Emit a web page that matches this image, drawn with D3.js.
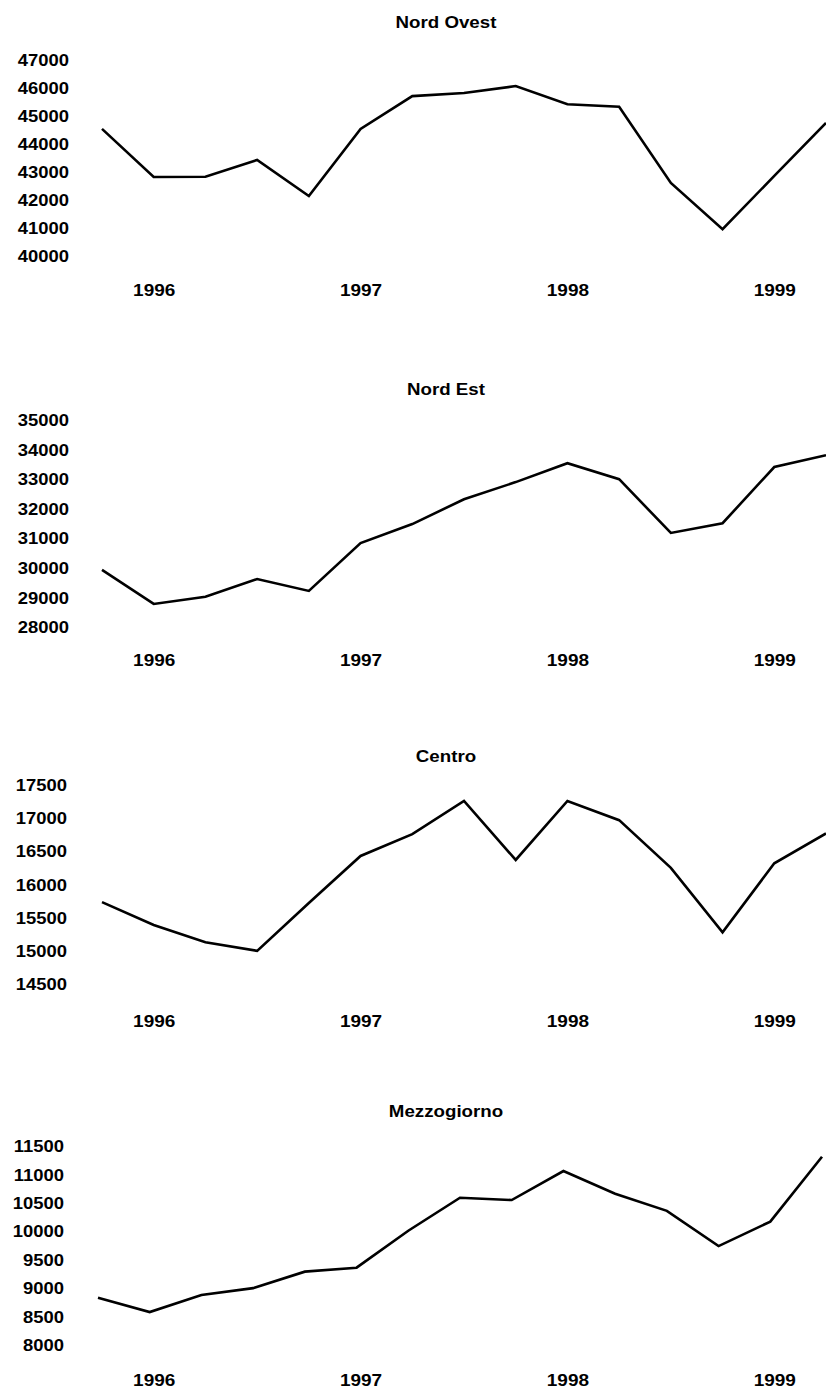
<!DOCTYPE html>
<html><head><meta charset="utf-8">
<script src="https://cdn.jsdelivr.net/npm/d3@7"></script>
<style>
html,body{margin:0;padding:0;background:#fff;}
text{font-family:"Liberation Sans",Arial,sans-serif;font-weight:bold;fill:#000;}
</style></head>
<body>
<div id="chart"></div>
<script>
// ---- data ----
const quarters = ["1995Q4","1996Q1","1996Q2","1996Q3","1996Q4","1997Q1","1997Q2","1997Q3","1997Q4","1998Q1","1998Q2","1998Q3","1998Q4","1999Q1","1999Q2"];
const yearLabels = ["1996","1997","1998","1999"];
const yearLabelQuarters = ["1996Q1","1997Q1","1998Q1","1999Q1"];
const regions = ["Nord Ovest","Nord Est","Centro","Mezzogiorno"];

const nordOvest   = [44540,42820,42830,43430,42140,44540,45710,45820,46070,45420,45330,42610,40960,42860,44750];
const nordEst     = [29930,28780,29020,29620,29220,30840,31480,32320,32900,33540,33000,31180,31510,33410,33810];
const centro      = [15735,15390,15130,15000,15720,16430,16760,17260,16370,17260,16970,16250,15280,16320,16770];
const mezzogiorno = [8830,8580,8880,9000,9290,9360,10010,10590,10550,11060,10660,10360,9740,10170,11310];

const ticksNordOvest   = [40000,41000,42000,43000,44000,45000,46000,47000];
const ticksNordEst     = [28000,29000,30000,31000,32000,33000,34000,35000];
const ticksCentro      = [14500,15000,15500,16000,16500,17000,17500];
const ticksMezzogiorno = [8000,8500,9000,9500,10000,10500,11000,11500];

const seriesList = [nordOvest, nordEst, centro, mezzogiorno];
const tickList = [ticksNordOvest, ticksNordEst, ticksCentro, ticksMezzogiorno];

// ---- layout ----
const W = 826, H = 1388;
const layout = [
  {titleY: 22,  yTop: 60,  yBot: 256,  yearY: 290,  labelX: 69, xShift: 0},
  {titleY: 389, yTop: 420, yBot: 627,  yearY: 660,  labelX: 69, xShift: 0},
  {titleY: 756, yTop: 785, yBot: 984,  yearY: 1021, labelX: 67, xShift: 0},
  {titleY: 1111,yTop: 1146,yBot: 1345, yearY: 1380, labelX: 64, xShift: -4}
];

const svg = d3.select("#chart").append("svg").attr("width", W).attr("height", H);

function stretch(sel, f){
  sel.each(function(){
    const len = this.getComputedTextLength();
    d3.select(this).attr("textLength", len * f).attr("lengthAdjust", "spacingAndGlyphs");
  });
}

regions.forEach((name, i) => {
  const L = layout[i];
  const data = seriesList[i];
  const ticks = tickList[i];
  const x = d3.scalePoint().domain(quarters).range([102 + L.xShift, 826 + L.xShift]);
  const xLab = d3.scalePoint().domain(quarters).range([102, 826]);
  const y = d3.scaleLinear().domain([ticks[0], ticks[ticks.length - 1]]).range([L.yBot, L.yTop]);
  const g = svg.append("g");

  g.append("text").attr("x", 446).attr("y", L.titleY)
    .attr("text-anchor", "middle").attr("dominant-baseline", "central")
    .style("font-size", "17px").text(name).call(stretch, 1.1);

  // y axis (labels only)
  const ya = g.append("g").attr("transform", `translate(${L.labelX},0)`)
    .call(d3.axisLeft(y).tickValues(ticks).tickSize(0).tickPadding(0).tickFormat(d3.format("d")));
  ya.select(".domain").remove();
  ya.selectAll("text").attr("font-family", null).attr("font-size", null)
    .style("font-size", "16px").attr("dy", "0.35em").call(stretch, 1.15);

  // x axis (year labels only)
  const xa = g.append("g").attr("transform", `translate(0,${L.yearY})`)
    .call(d3.axisBottom(xLab).tickValues(yearLabelQuarters).tickSize(0).tickPadding(0)
      .tickFormat((d) => yearLabels[yearLabelQuarters.indexOf(d)]));
  xa.select(".domain").remove();
  xa.selectAll("text").attr("font-family", null).attr("font-size", null)
    .style("font-size", "16.5px").attr("y", 0).attr("dy", "0.35em").call(stretch, 1.15);

  const line = d3.line().x((d, k) => x(quarters[k])).y(d => y(d));
  g.append("path").datum(data).attr("d", line)
    .attr("fill", "none").attr("stroke", "#000").attr("stroke-width", 2.6)
    .attr("stroke-linejoin", "miter");
});
</script>
</body></html>
